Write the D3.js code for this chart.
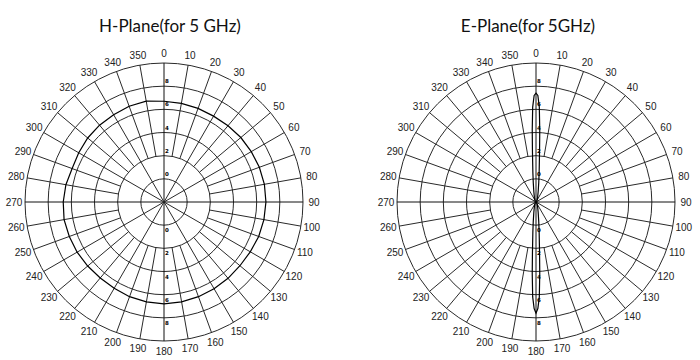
<!DOCTYPE html>
<html><head><meta charset="utf-8">
<script src="https://cdn.jsdelivr.net/npm/d3@7"></script>
<style>body{margin:0;background:#fff}svg{display:block}</style>
</head><body>
<svg id="c" width="700" height="360"></svg>
<script>
const titles = ["H-Plane(for 5 GHz)", "E-Plane(for 5GHz)"];
const angleTicks = d3.range(0, 360, 10);
const ringValues = [1, 2, 3, 4, 5, 6];
const ringLabels = ["0", "2", "4", "6", "8"];
// H-plane: angle (deg) and radius (ring units)
const hAngles = [0,10,20,30,40,50,60,70,80,90,100,110,120,130,140,150,160,170,180,190,200,210,220,230,240,250,260,270,280,290,300,310,320,330,340,350];
const hValues = [4.35,4.32,4.3,4.28,4.3,4.33,4.35,4.38,4.4,4.4,4.38,4.35,4.3,4.28,4.3,4.32,4.35,4.38,4.4,4.38,4.35,4.3,4.28,4.3,4.33,4.35,4.38,4.35,4.3,4.22,4.25,4.3,4.33,4.35,4.4,4.42];
// E-plane: narrow lobes towards 0 and 180
const eAngles = [0,1,2,3,4,6,8,12,20,45,90,135,160,168,172,174,176,177,178,179,180,181,182,183,184,186,188,192,200,225,270,315,340,348,352,354,356,357,358,359];
const eValues = [4.7,4.6,4.1,3.1,2.2,1.3,0.85,0.45,0.2,0.05,0.02,0.05,0.2,0.45,0.85,1.3,2.2,3.1,4.1,4.6,4.8,4.6,4.1,3.1,2.2,1.3,0.85,0.45,0.2,0.05,0.02,0.05,0.2,0.45,0.85,1.3,2.2,3.1,4.1,4.6];

const svg = d3.select("#c");
const R = 139, cy = 202;
const charts = [
  {cx:164, tx:170, title:titles[0], ang:hAngles, val:hValues},
  {cx:536, tx:528, title:titles[1], ang:eAngles, val:eValues}
];
const r = d3.scaleLinear().domain([0, 6]).range([0, R]);
const grid = "#2a2a2a";

charts.forEach(c => {
  const g = svg.append("g").attr("transform", `translate(${c.cx},${cy})`);
  svg.append("text").attr("x", c.tx).attr("y", 32).attr("text-anchor","middle")
    .attr("font-family","Lato, 'Open Sans', sans-serif").attr("font-size",17).attr("fill","#111").text(c.title);
  g.selectAll("circle.ring").data(ringValues).join("circle").attr("class","ring")
    .attr("r", d => r(d)).attr("fill","none").attr("stroke",grid).attr("stroke-width",1);
  const rad = a => (a - 90) * Math.PI / 180;
  angleTicks.forEach(a => {
    const r0 = (a % 30 === 0) ? 0 : r(2);
    g.append("line")
      .attr("x1", r0 * Math.cos(rad(a))).attr("y1", r0 * Math.sin(rad(a)))
      .attr("x2", R * Math.cos(rad(a))).attr("y2", R * Math.sin(rad(a)))
      .attr("stroke", a % 90 === 0 ? "#111" : grid).attr("stroke-width", 1);
  });
  g.selectAll("text.ang").data(angleTicks).join("text").attr("class","ang")
    .attr("x", d => (R + 11) * Math.cos(rad(d)))
    .attr("y", d => (R + 10) * Math.sin(rad(d)) + 3.5)
    .attr("text-anchor","middle").attr("font-family","'Liberation Sans', Arial, sans-serif")
    .attr("font-size",10).attr("fill","#222").text(d => d);
  ringLabels.forEach((t, i) => {
    [-1, 1].forEach(s => {
      g.append("text").attr("x", 3).attr("y", s * (r(i + 1) + 3) + (s < 0 ? 0 : 4))
        .attr("text-anchor","middle").attr("font-family","'DejaVu Sans', sans-serif")
        .attr("font-size",5.5).attr("font-weight","bold").attr("fill","#000").text(t);
    });
  });
  const pts = c.ang.map((a, i) => [a * Math.PI / 180, r(c.val[i])]);
  const line = d3.lineRadial().angle(d => d[0]).radius(d => d[1]).curve(d3.curveLinearClosed);
  g.append("path").attr("d", line(pts)).attr("fill","none").attr("stroke","#000").attr("stroke-width",1.2);
});
</script>
</body></html>
